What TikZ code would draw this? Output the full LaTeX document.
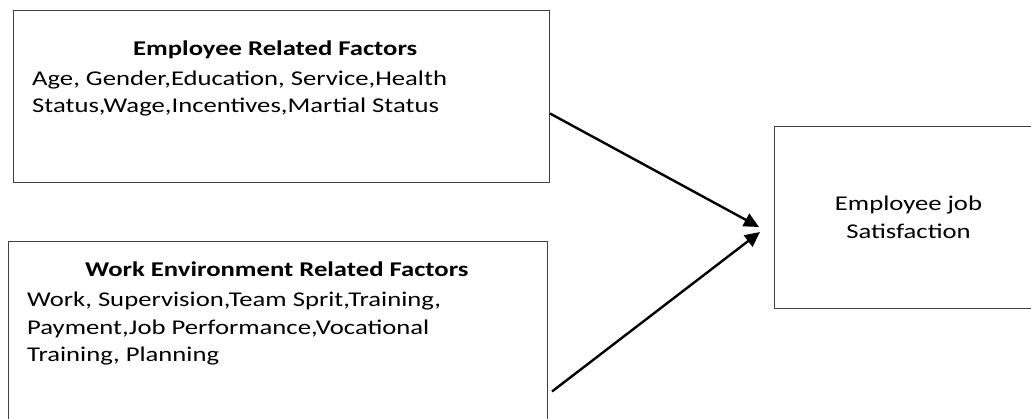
\documentclass[tikz,border=0pt]{standalone}
\usepackage{fontspec}
\setmainfont[FakeStretch=1.27]{Carlito}
\usetikzlibrary{arrows.meta,positioning}
\tikzstyle{factorbox} = [draw=black!75, line width=1pt, rectangle, anchor=north west, inner sep=0pt]
\tikzstyle{factortext} = [anchor=base west, align=left, inner sep=0pt, font=\fontsize{21}{27.5}\selectfont]
\tikzstyle{arrow} = [line width=2.4pt, -{Triangle[length=15pt,width=14pt]}]

\begin{document}
\begin{tikzpicture}[x=1pt,y=-1pt]
\useasboundingbox (0,0) rectangle (1031,419);
\clip (0,0) rectangle (1031,419);

\node[factorbox, minimum width=536pt, minimum height=172pt] (emp) at (13,10) {};
% base anchor sits on the last line
\node[factortext] (emptext) at (32,113) {\hspace*{101pt}\textbf{Employee Related Factors}\\[2.5pt]
  Age, Gender,Education, Service,Health\\
  Status,Wage,Incentives,Martial Status};

\node[factorbox, minimum width=539pt, minimum height=190pt] (work) at (8,241) {};
\node[factortext] (worktext) at (27,362) {\hspace*{58pt}\textbf{Work Environment Related Factors}\\[2.5pt]
  Work, Supervision,Team Sprit,Training,\\
  Payment,Job Performance,Vocational\\
  Training, Planning};

\node[factorbox, minimum width=268pt, minimum height=182pt, align=center,
  font=\fontsize{21}{28}\selectfont] (sat) at (774,126) {Employee job\\Satisfaction};

\coordinate (tipa) at (759,227);
\coordinate (tipb) at (760,232);
\draw[arrow] ([yshift=-17pt]emp.east) -- (tipa);
\draw[arrow] ([xshift=4pt,yshift=-55pt]work.east) -- (tipb);
\end{tikzpicture}
\end{document}
